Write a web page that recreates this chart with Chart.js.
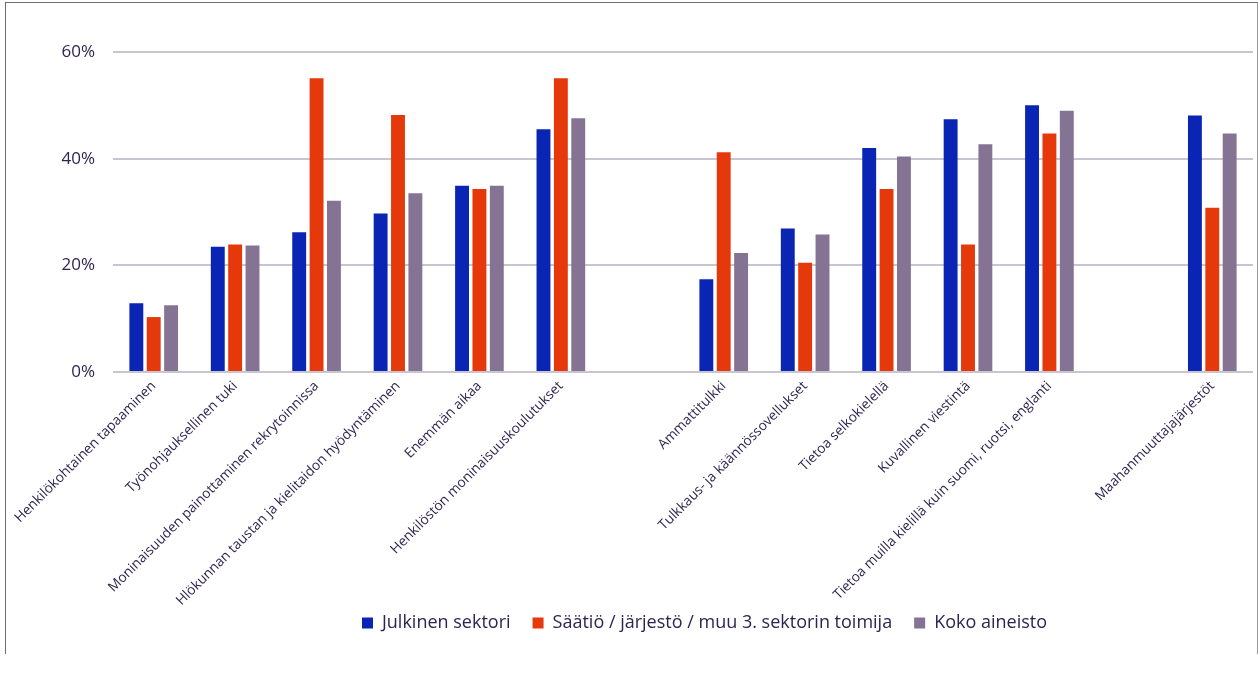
<!DOCTYPE html>
<html>
<head>
<meta charset="utf-8">
<script src="https://cdn.jsdelivr.net/npm/chart.js@4"></script>
<style>
  html, body { margin: 0; padding: 0; background: #fff; }
  #wrap { position: relative; width: 1258px; height: 675px; }
  #frame {
    position: absolute; left: 5px; top: 2px; width: 1251px; height: 651px;
    border-left: 1px solid #6e6e6e; border-top: 1px solid #6e6e6e; border-right: 1px solid #9a9a9a;
    pointer-events: none;
  }
  canvas { position: absolute; left: 0; top: 0; }
</style>
</head>
<body>
<div id="wrap">
  <canvas id="chart" width="1258" height="675"></canvas>
  <div id="frame"></div>
</div>
<script>
// Categories (empty strings are the gaps between groups)
const categories = [
  'Henkilökohtainen tapaaminen',
  'Työnohjauksellinen tuki',
  'Moninaisuuden painottaminen rekrytoinnissa',
  'Hlökunnan taustan ja kielitaidon hyödyntäminen',
  'Enemmän aikaa',
  'Henkilöstön moninaisuuskoulutukset',
  '',
  'Ammattitulkki',
  'Tulkkaus- ja käännössovellukset',
  'Tietoa selkokielellä',
  'Kuvallinen viestintä',
  'Tietoa muilla kielillä kuin suomi, ruotsi, englanti',
  '',
  'Maahanmuuttajajärjestöt'
];

// Series values (%)
const julkinen = [12.9, 23.5, 26.2, 29.7, 34.9, 45.5, null, 17.4, 26.9, 42.0, 47.4, 50.0, null, 48.1];
const saatio   = [10.3, 23.9, 55.1, 48.2, 34.3, 55.1, null, 41.2, 20.5, 34.3, 23.9, 44.7, null, 30.8];
const koko     = [12.5, 23.7, 32.1, 33.5, 34.9, 47.6, null, 22.3, 25.8, 40.4, 42.7, 49.0, null, 44.7];

const seriesNames = ['Julkinen sektori', 'Säätiö / järjestö / muu 3. sektorin toimija', 'Koko aineisto'];
const seriesColors = ['#0a24b4', '#e5390b', '#857393'];

const yTicks = [0, 20, 40, 60];

const textColor = '#2f2350';
const fontFamily = '"Open Sans", "Liberation Sans", sans-serif';

// move the legend up and right, so it sits like in the original
const legendShift = {
  id: 'legendShift',
  afterLayout(chart) {
    const lg = chart.legend;
    lg.top -= 18;
    lg.bottom -= 18;
    lg.left += 78;
    lg.right += 78;
  }
};

function initChart() {
  const ctx = document.getElementById('chart').getContext('2d');
  new Chart(ctx, {
    type: 'bar',
    data: {
      labels: categories,
      datasets: [
        { label: seriesNames[0], data: julkinen, backgroundColor: seriesColors[0] },
        { label: seriesNames[1], data: saatio, backgroundColor: seriesColors[1] },
        { label: seriesNames[2], data: koko, backgroundColor: seriesColors[2] }
      ]
    },
    plugins: [legendShift],
    options: {
      responsive: false,
      animation: false,
      datasets: {
        bar: { categoryPercentage: 0.64, barPercentage: 0.8 }
      },
      layout: {
        padding: { left: 0, right: 5, top: 52, bottom: 15 }
      },
      plugins: {
        tooltip: { enabled: false },
        legend: {
          position: 'bottom',
          labels: {
            boxWidth: 11,
            boxHeight: 11,
            padding: 22,
            color: textColor,
            font: { family: fontFamily, size: 18 }
          }
        }
      },
      scales: {
        x: {
          grid: { display: false, drawTicks: false },
          border: { display: false },
          ticks: {
            autoSkip: false,
            maxRotation: 45,
            minRotation: 45,
            padding: 6,
            color: textColor,
            font: { family: fontFamily, size: 13.7 }
          },
          afterFit: (scale) => { scale.height = 238; }
        },
        y: {
          min: 0,
          max: 60,
          afterBuildTicks: (scale) => { scale.ticks = yTicks.map(v => ({ value: v })); },
          grid: { color: '#c9c5d0', lineWidth: 2, drawTicks: false },
          border: { display: false },
          ticks: {
            padding: 18,
            color: textColor,
            font: { family: fontFamily, size: 17 },
            callback: (v) => v + '%'
          },
          afterFit: (scale) => { scale.width = 113; }
        }
      }
    }
  });
}

initChart();
</script>
</body>
</html>
